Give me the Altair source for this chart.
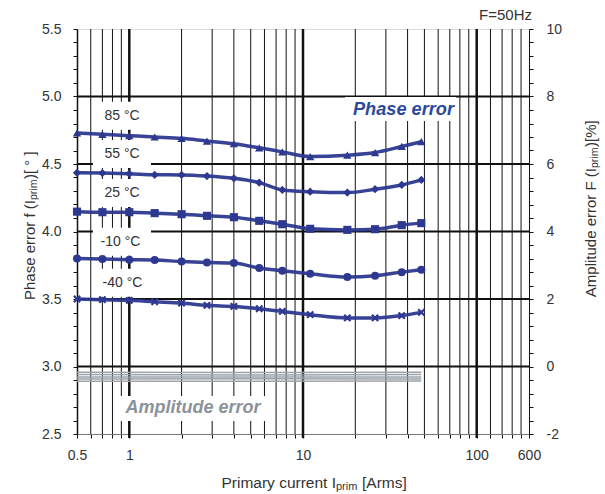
import altair as alt
import pandas as pd

# ---- data -------------------------------------------------------------
currents = [0.5, 0.7, 1, 1.4, 2, 2.8, 4, 5.6, 7.6, 11, 18, 26, 37, 48]
temperatures = ["85 °C", "55 °C", "25 °C", "-10 °C", "-40 °C"]

phase_85 = [4.73, 4.72, 4.71, 4.70, 4.69, 4.67, 4.65, 4.62, 4.59, 4.555, 4.565, 4.585, 4.63, 4.665]
phase_55 = [4.435, 4.433, 4.428, 4.42, 4.419, 4.411, 4.394, 4.362, 4.308, 4.295, 4.288, 4.313, 4.345, 4.382]
phase_25 = [4.147, 4.143, 4.143, 4.136, 4.128, 4.116, 4.106, 4.079, 4.054, 4.02, 4.012, 4.017, 4.047, 4.062]
phase_m10 = [3.80, 3.796, 3.791, 3.788, 3.778, 3.771, 3.766, 3.729, 3.709, 3.687, 3.663, 3.672, 3.699, 3.717]
phase_m40 = [3.50, 3.495, 3.49, 3.48, 3.47, 3.453, 3.445, 3.428, 3.408, 3.384, 3.36, 3.36, 3.377, 3.401]
phase_series = [phase_85, phase_55, phase_25, phase_m10, phase_m40]

amp_currents = [0.5, 5, 48]
amp_1 = [-0.17, -0.18, -0.17]
amp_2 = [-0.24, -0.25, -0.24]
amp_3 = [-0.31, -0.31, -0.31]
amp_4 = [-0.37, -0.36, -0.37]
amp_5 = [-0.44, -0.44, -0.43]
amp_series = [amp_1, amp_2, amp_3, amp_4, amp_5]

x_minor_grid = [0.6, 0.7, 0.8, 0.9, 2, 3, 4, 5, 6, 7, 8, 9,
                20, 30, 40, 50, 60, 70, 80, 90, 120, 140, 160, 180]
x_major_grid = [1, 10, 100]
x_label_values = [0.5, 1, 10, 100, 200]
x_label_texts = ["0.5", "1", "10", "100", "600"]
y_grid = [3.0, 3.5, 4.0, 4.5, 5.0]

# ---- layout / style ---------------------------------------------------
W, H = 452, 405
FONT = "Liberation Sans"
BLUE = "#2d3990"
GRAY_LINE = "#9ca3aa"
TXT = "#333333"

phase_df = pd.DataFrame(
    [{"series": t, "current": c, "phase": v}
     for t, vals in zip(temperatures, phase_series)
     for c, v in zip(currents, vals)]
)
amp_df = pd.DataFrame(
    [{"line": i, "current": c, "amp": v}
     for i, vals in enumerate(amp_series)
     for c, v in zip(amp_currents, vals)]
)

x_scale = alt.Scale(type="log", domain=[0.5, 200], nice=False)
y_scale = alt.Scale(domain=[2.5, 5.5], nice=False, zero=False)
a_scale = alt.Scale(domain=[-2, 10], nice=False, zero=False)

label_expr = " : ".join(
    f"datum.value == {v} ? '{t}'" for v, t in zip(x_label_values, x_label_texts)
) + " : ''"
x_axis = alt.Axis(
    values=sorted(x_minor_grid + x_major_grid + x_label_values),
    labelExpr=label_expr, title=None, grid=False,
    tickSize=4, tickColor="#111", domainColor="#777", domainWidth=1,
    labelFont=FONT, labelFontSize=14, labelColor=TXT,
    labelPadding=17, labelBaseline="middle", labelFlush=False, labelOverlap=False,
)
y_axis = alt.Axis(
    values=[round(2.5 + 0.1 * i, 1) for i in range(31)],
    labelExpr="abs(datum.value * 2 - round(datum.value * 2)) < 0.001 ? format(datum.value, '.1f') : ''",
    title=None, grid=False, tickSize=4, tickColor="#111",
    domainColor="#111", domainWidth=1.5,
    labelFont=FONT, labelFontSize=14, labelColor=TXT, labelPadding=12,
    labelOverlap=False,
)
a_axis = alt.Axis(
    orient="right",
    values=[round(-2 + 0.4 * i, 1) for i in range(31)],
    labelExpr="abs(datum.value / 2 - round(datum.value / 2)) < 0.001 ? '' + round(datum.value) : ''",
    title=None, grid=False, tickSize=4, tickColor="#111",
    domainColor="#111", domainWidth=1,
    labelFont=FONT, labelFontSize=14, labelColor=TXT, labelPadding=13,
    labelOverlap=False,
)

X = alt.X("x:Q", scale=x_scale, axis=x_axis)

# vertical grid
vgrid_minor = alt.Chart(pd.DataFrame({"x": x_minor_grid})).mark_rule(
    color="#111", strokeWidth=1).encode(X, y=alt.value(0), y2=alt.value(H))
vgrid_major = alt.Chart(pd.DataFrame({"x": x_major_grid})).mark_rule(
    color="#111", strokeWidth=2.5).encode(X, y=alt.value(0), y2=alt.value(H + 4))

# horizontal grid
hgrid = alt.Chart(pd.DataFrame({"y": y_grid})).mark_rule(
    color="#111", strokeWidth=2).encode(
    y=alt.Y("y:Q", scale=y_scale, axis=y_axis), x=alt.value(0), x2=alt.value(W))

layers = [vgrid_minor, vgrid_major, hgrid]


def label(text, x, y, size=14, color=TXT, align="center", weight="normal",
          style="normal", angle=0):
    return alt.Chart(pd.DataFrame({"t": [text]})).mark_text(
        font=FONT, fontSize=size, color=color, align=align, baseline="middle",
        fontWeight=weight, fontStyle=style, angle=angle,
    ).encode(text="t:N", x=alt.value(x), y=alt.value(y))


def box(x0, x1, y0, y1):
    return alt.Chart(pd.DataFrame({"b": [0]})).mark_rect(color="white").encode(
        x=alt.value(x0), x2=alt.value(x1), y=alt.value(y0), y2=alt.value(y1))


# temperature tags with white backing
tag_pos = [(45, 86.7), (45, 125), (45, 164), (43.5, 212.7), (45.5, 253.7)]
for t, (tx, ty) in zip(temperatures, tag_pos):
    layers.append(box(16, 74, ty - 14, ty + 14))
    layers.append(label(t, tx, ty))

# series captions
layers.append(box(268, 379, 68, 92))
layers.append(label("Phase error", 326.5, 80.5, size=18.2, color="#2a4a9c",
                    weight="bold", style="italic"))
layers.append(box(41, 193, 367, 392))
layers.append(label("Amplitude error", 116, 379, size=18, color="#8c9299",
                    weight="bold", style="italic"))

# frequency note
layers.append(label("F=50Hz", 455, -14, size=15, align="right"))

# x title with subscript
layers.append(label("Primary current I", 259, 454, size=15.5, align="right"))
layers.append(label("prim", 259, 457.5, size=11, align="left"))
layers.append(label("[Arms]", 285, 454, size=15.5, align="left"))

# left title (rotated) with subscript
layers.append(label("Phase error f (I", -47, 171, size=15, align="right", angle=270))
layers.append(label("prim", -43.5, 171, size=10.5, align="left", angle=270))
layers.append(label(")[ ° ]", -47, 150, size=15, align="left", angle=270))

# right title (rotated) with subscript
layers.append(label("Amplitude error F (I", 514, 139, size=15, align="right", angle=270))
layers.append(label("prim", 517.5, 139, size=10.5, align="left", angle=270))
layers.append(label(")[%]", 514, 118, size=15, align="left", angle=270))

# phase error curves and markers
PX = alt.X("current:Q", scale=x_scale, axis=x_axis)
PY = alt.Y("phase:Q", scale=y_scale, axis=y_axis)
phase_lines = alt.Chart(phase_df).mark_line(
    interpolate="monotone", strokeWidth=3.5, color=BLUE, opacity=0.95
).encode(PX, PY, detail="series:N")

x_shape = ("M-1,-0.6L-0.6,-1L0,-0.4L0.6,-1L1,-0.6L0.4,0L1,0.6L0.6,1"
           "L0,0.4L-0.6,1L-1,0.6L-0.4,0Z")
phase_points = alt.Chart(phase_df).mark_point(
    filled=True, opacity=1, color=BLUE, strokeWidth=0
).encode(
    PX, PY,
    shape=alt.Shape("series:N", legend=None, scale=alt.Scale(
        domain=temperatures,
        range=["triangle-up", "diamond", "square", "circle", x_shape])),
    size=alt.Size("series:N", legend=None, scale=alt.Scale(
        domain=temperatures, range=[70, 62, 68, 32, 72])),
)
layers += [phase_lines, phase_points]

phase_group = alt.layer(*layers)

# amplitude error lines on the right-hand scale
amp_group = alt.Chart(amp_df).mark_line(
    strokeWidth=1.5, color=GRAY_LINE
).encode(
    alt.X("current:Q", scale=x_scale, axis=x_axis),
    alt.Y("amp:Q", scale=a_scale, axis=a_axis),
    detail="line:N",
)

chart = alt.layer(phase_group, amp_group).resolve_scale(
    y="independent"
).properties(
    width=W, height=H,
    padding={"left": 77, "top": 29, "right": 76, "bottom": 60},
    autosize=alt.AutoSizeParams(type="none"),
).configure_view(stroke=None).configure(background="white")

chart.save("out.html", embed_options={"renderer": "svg", "actions": False})
